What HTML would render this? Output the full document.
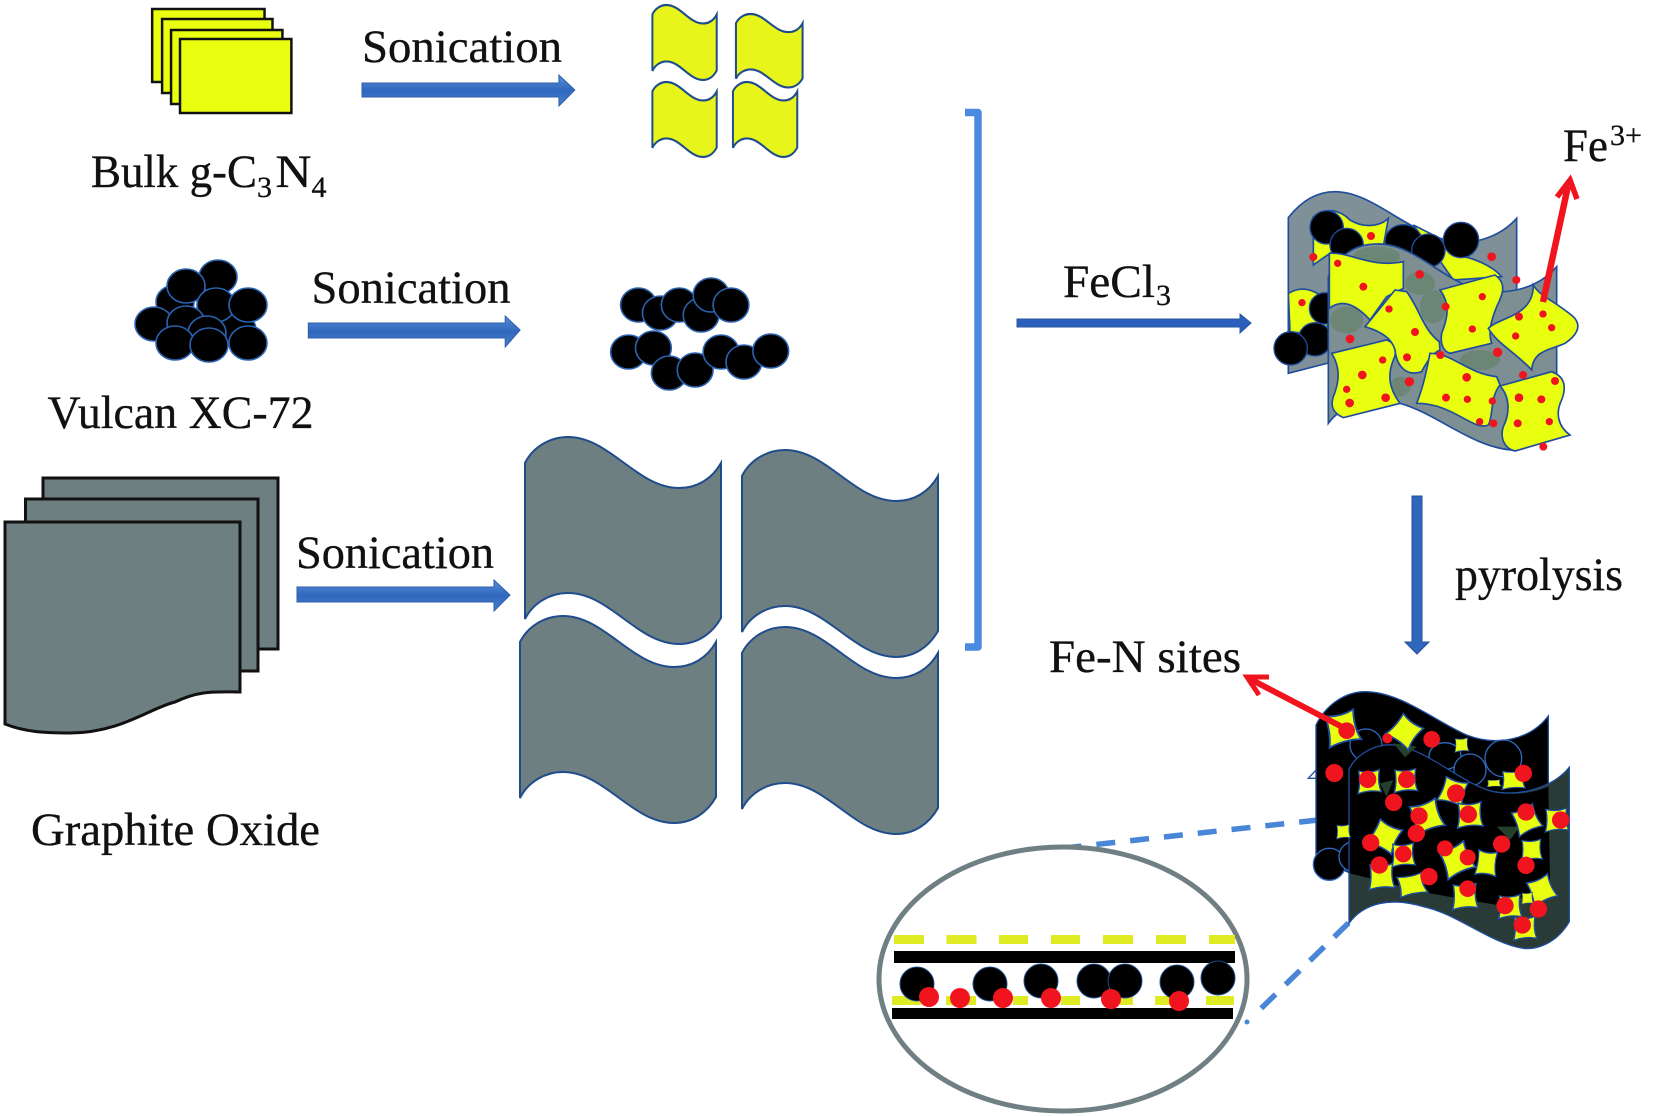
<!DOCTYPE html>
<html><head><meta charset="utf-8"><title>Diagram</title>
<style>html,body{margin:0;padding:0;background:#fff}svg{display:block}text{font-family:"Liberation Serif",serif;fill:#111;stroke:#111;stroke-width:.35}</style></head>
<body>
<svg width="1654" height="1116" viewBox="0 0 1654 1116" xmlns="http://www.w3.org/2000/svg">
<defs>
<linearGradient id="ab" x1="0" y1="0" x2="0" y2="1"><stop offset="0" stop-color="#5b8fd8"/><stop offset=".5" stop-color="#2f67bd"/><stop offset="1" stop-color="#4a80cf"/></linearGradient>
<path id="wave" d="M0,26 C8,10 25,0 43,0 C85,0 112,51 154,51 C172,51 187,42 196,26 L196,181 C187,197 172,207 154,207 C112,207 85,156 43,156 C25,156 8,166 0,182 Z"/>
<path id="star" d="M-32,-32 C-10,-26 10,-28 30,-36 C26,-12 28,12 36,30 C14,26 -12,28 -34,36 C-28,14 -28,-10 -32,-32Z" fill="#e8ff10" stroke="#1e4fa0" stroke-width="4"/>
</defs>
<rect width="1654" height="1116" fill="#fff"/>

<g transform="scale(.9945 1)">
<!-- yellow stack -->
<g fill="#eaff0f" stroke="#111" stroke-width="2.500">
<rect x="153" y="9" width="113" height="73"/><rect x="163" y="19" width="111" height="74"/><rect x="172" y="30" width="112" height="74"/><rect x="181" y="39" width="112" height="74"/>
</g>
<!-- small yellow pages -->
<g fill="#e8f51a" stroke="#1f4d8c" stroke-width="6">
<use href="#wave" transform="translate(656 5) scale(.33 .362)"/>
<use href="#wave" transform="translate(740 14) scale(.342 .355)"/>
<use href="#wave" transform="translate(656 82) scale(.33 .362)"/>
<use href="#wave" transform="translate(737 82) scale(.33 .362)"/>
</g>
<!-- carbon right -->
<g fill="#000" stroke="#2a62b0" stroke-width="1.600">
<ellipse cx="642" cy="305" rx="18" ry="17"/><ellipse cx="664" cy="313" rx="18" ry="17"/><ellipse cx="683" cy="305" rx="18" ry="17"/><ellipse cx="705" cy="315" rx="18" ry="17"/><ellipse cx="715" cy="295" rx="18" ry="17"/><ellipse cx="735" cy="305" rx="18" ry="17"/>
<ellipse cx="632" cy="352" rx="18" ry="17"/><ellipse cx="657" cy="348" rx="18" ry="17"/><ellipse cx="673" cy="373" rx="18" ry="17"/><ellipse cx="699" cy="370" rx="18" ry="17"/><ellipse cx="725" cy="352" rx="18" ry="17"/><ellipse cx="748" cy="362" rx="18" ry="17"/><ellipse cx="775" cy="351" rx="18" ry="17"/>
</g>
<g fill="url(#ab)" stroke="#2f5fa8" stroke-width="1">
<path d="M364,83 H562 V75 L578,90 L562,106 V97 H364 Z"/>
<path d="M310,323 H508 V316 L523,330 L508,347 V338 H310 Z"/>
</g>
</g>

<!-- carbon left -->
<g fill="#000" stroke="#2a62b0" stroke-width="1.600">
<ellipse cx="237" cy="330" rx="19" ry="17"/><ellipse cx="175" cy="302" rx="19" ry="17"/><ellipse cx="218" cy="277" rx="19" ry="17"/><ellipse cx="186" cy="286" rx="19" ry="17"/><ellipse cx="216" cy="305" rx="19" ry="17"/><ellipse cx="248" cy="305" rx="19" ry="17"/><ellipse cx="154" cy="324" rx="19" ry="17"/><ellipse cx="186" cy="323" rx="19" ry="17"/><ellipse cx="207" cy="333" rx="19" ry="17"/><ellipse cx="175" cy="343" rx="19" ry="17"/><ellipse cx="248" cy="343" rx="19" ry="17"/><ellipse cx="209" cy="345" rx="19" ry="17"/>
</g>

<!-- graphite stack -->
<g fill="#6e7f82" stroke="#111" stroke-width="3">
<rect x="43" y="478" width="235" height="171"/><rect x="25.500" y="499" width="232.500" height="172"/>
<path d="M5,522 H240 V692 C215,692 200,690 175,702 C150,708 120,733 70,733 C45,733 25,732 5,724 Z"/>
</g>
<!-- big grey pages -->
<g fill="#6e7f82" stroke="#1f4d8c" stroke-width="2">
<use href="#wave" transform="translate(525 437)"/><use href="#wave" transform="translate(742 450)"/><use href="#wave" transform="translate(520 616)"/><use href="#wave" transform="translate(742 627)"/>
</g>

<!-- blue arrows -->
<path d="M297,587 H494 V580 L510,595 L494,611 V602 H297 Z" fill="url(#ab)" stroke="#2f5fa8"/>
<path d="M1017,319 H1240 V314 L1251,323 L1240,333 V327 H1017 Z" fill="#2a5fbd" stroke="#2a55a0"/>
<path d="M1412,496 H1422 V642 H1429 L1417,654 L1405,642 H1412 Z" fill="#2f67bd" stroke="#264f96"/>
<!-- bracket -->
<path d="M965,112.500 H978 V647 H965" fill="none" stroke="#4a8ae0" stroke-width="7.500" stroke-linejoin="round"/>

<!-- top composite -->
<g transform="translate(1240 120) scale(.33333)">
<path d="M145,293 C190,235 240,215 285,215 C400,215 500,340 640,365 C720,375 790,340 830,295 L830,560 L300,720 L145,760 Z" fill="#7f9098" stroke="#1f4d9c" stroke-width="5"/>
<g fill="#e8ff10" stroke="#1f4d9c" stroke-width="5">
<path d="M220,290 C260,260 300,270 330,300 C370,325 420,320 445,295 L430,380 L300,380 C270,400 240,420 220,435 Z"/>
<path d="M520,315 L610,360 L640,405 C700,410 760,440 785,470 L640,480 L605,430 Z"/>
<path d="M145,520 C180,500 210,505 240,525 L265,560 L262,620 L190,640 L150,635 Z"/>
</g>
<g fill="#000" stroke="#1f4d9c" stroke-width="4">
<circle cx="260" cy="322" r="50"/><circle cx="320" cy="375" r="50"/><ellipse cx="490" cy="362" rx="55" ry="48"/><circle cx="565" cy="392" r="50"/><circle cx="663" cy="360" r="53"/>
<circle cx="255" cy="565" r="47"/><circle cx="225" cy="658" r="50"/><circle cx="152" cy="685" r="50"/>
</g>
<path d="M265,470 C300,400 350,370 420,372 C520,375 600,470 700,505 C790,530 890,510 950,440 L950,880 C930,940 880,990 820,990 C700,985 590,880 480,850 C380,830 300,860 265,910 Z" fill="#7d8f92" stroke="#1f4d9c" stroke-width="5"/>
<g fill="#5f7f60" opacity=".55"><ellipse cx="410" cy="410" rx="70" ry="30"/><ellipse cx="540" cy="490" rx="45" ry="35"/><ellipse cx="580" cy="560" rx="40" ry="50"/><ellipse cx="320" cy="600" rx="50" ry="40"/><ellipse cx="720" cy="720" rx="60" ry="30"/><ellipse cx="480" cy="800" rx="30" ry="30"/></g>
<g fill="#e8ff10" stroke="#1f4d9c" stroke-width="5">
<path d="M268,400 C330,395 390,445 490,425 L490,505 L440,530 L390,600 C340,545 300,540 268,565 Z"/>
<path d="M275,700 L440,660 C470,670 470,700 460,720 C440,770 450,810 480,850 L310,893 C280,880 270,860 280,830 C300,780 300,740 275,700 Z"/>
<path d="M375,620 L465,510 L500,515 C540,570 550,630 598,665 L600,690 C575,700 555,735 545,755 C500,770 470,740 465,690 C455,650 410,630 375,620 Z"/>
<path d="M600,510 L765,465 C800,490 790,520 770,560 C750,610 745,640 755,670 L630,700 C610,695 600,670 605,640 C625,590 630,550 600,510 Z"/>
<path d="M570,700 C640,700 680,760 770,770 L780,795 C750,830 760,890 745,915 C700,935 640,850 530,850 C550,800 560,750 570,700 Z"/>
<path d="M745,625 C780,590 880,590 880,495 C900,530 940,540 1000,590 C1030,620 1005,650 975,670 C930,690 880,690 875,750 C830,700 770,670 745,625 Z"/>
<path d="M780,798 L935,755 C975,770 980,800 965,840 C945,880 955,920 990,945 L825,993 C790,985 780,950 790,920 C810,880 810,830 780,798 Z"/>
</g>
<g fill="#f0141e">
<circle cx="393" cy="348" r="12"/><circle cx="220" cy="411" r="12"/><circle cx="293" cy="430" r="11"/><circle cx="370" cy="500" r="12"/><circle cx="539" cy="463" r="13"/><circle cx="755" cy="410" r="13"/><circle cx="829" cy="480" r="12"/><circle cx="727" cy="530" r="11"/><circle cx="186" cy="548" r="11"/><circle cx="447" cy="567" r="11"/><circle cx="617" cy="560" r="12"/><circle cx="525" cy="636" r="12"/><circle cx="330" cy="657" r="13"/><circle cx="697" cy="627" r="11"/><circle cx="837" cy="590" r="12"/><circle cx="909" cy="582" r="11"/><circle cx="935" cy="623" r="11"/><circle cx="827" cy="648" r="11"/><circle cx="773" cy="697" r="14"/><circle cx="601" cy="705" r="12"/><circle cx="501" cy="712" r="12"/><circle cx="428" cy="720" r="11"/><circle cx="367" cy="765" r="13"/><circle cx="320" cy="808" r="11"/><circle cx="329" cy="849" r="13"/><circle cx="437" cy="833" r="13"/><circle cx="508" cy="785" r="14"/><circle cx="680" cy="772" r="13"/><circle cx="618" cy="833" r="12"/><circle cx="682" cy="838" r="11"/><circle cx="757" cy="843" r="11"/><circle cx="849" cy="765" r="12"/><circle cx="837" cy="833" r="13"/><circle cx="904" cy="838" r="12"/><circle cx="945" cy="783" r="12"/><circle cx="833" cy="910" r="12"/><circle cx="928" cy="905" r="11"/><circle cx="719" cy="905" r="11"/><circle cx="760" cy="910" r="12"/><circle cx="910" cy="980" r="12"/>
</g>
</g>
<path d="M1543,302 L1568,186" stroke="#f0141e" stroke-width="6.500" fill="none"/>
<path d="M1557,197 L1570,180 L1577,199" stroke="#f0141e" stroke-width="5.500" fill="none" stroke-linejoin="miter"/>

<!-- dashed zoom lines -->
<path d="M1318,820 L1064,848" stroke="#4a86d8" stroke-width="5.500" stroke-dasharray="19 15" fill="none"/>
<path d="M1348.500,923 L1259.500,1010" stroke="#4a86d8" stroke-width="5.500" stroke-dasharray="20 14" fill="none"/>
<circle cx="1247" cy="1022" r="2.500" fill="#4a86d8"/>

<!-- bottom composite -->
<g transform="translate(1290 680) scale(.33333)">
<path d="M55,295 L80,268 V295 Z" fill="#fff" stroke="#1e4fa0" stroke-width="4"/>
<path d="M78,135 C110,70 170,35 225,35 C330,35 430,120 530,165 C620,200 720,180 775,108 L775,340 L180,580 L78,530 Z" fill="#000" stroke="#1e4fa0" stroke-width="4"/>
<g fill="#000" stroke="#2f68c0" stroke-width="4">
<circle cx="228" cy="195" r="48"/><ellipse cx="465" cy="228" rx="48" ry="40"/><circle cx="540" cy="270" r="48"/><circle cx="640" cy="235" r="55"/><circle cx="118" cy="553" r="48"/><circle cx="192" cy="530" r="45"/>
</g>
<path d="M177,268 C200,220 260,190 310,195 C420,210 510,310 610,335 C700,350 790,320 838,262 L838,725 C800,790 740,810 700,805 C600,790 500,700 400,680 C300,650 220,670 177,730 Z" fill="#2a3a36" stroke="#1e4fa0" stroke-width="4"/>
<path d="M179,270 C200,222 260,192 310,197 C420,212 510,312 610,337 C670,347 730,340 775,320 L780,600 L650,680 L420,640 L179,580 Z" fill="#000"/>
<g fill="#24402c"><path d="M310,190 L380,200 L345,232 Z"/><path d="M270,310 L310,300 L290,350 Z"/><path d="M620,440 L690,440 L660,480 Z"/></g>
<use href="#star" transform="translate(157 145) scale(1.4) rotate(-10)"/>
<use href="#star" transform="translate(345 155) scale(1.2) rotate(40)"/>
<use href="#star" transform="translate(515 195) scale(.6)"/>
<use href="#star" transform="translate(238 305) scale(1)"/>
<use href="#star" transform="translate(347 302) scale(1)"/>
<use href="#star" transform="translate(490 335) scale(1.1) rotate(20)"/>
<use href="#star" transform="translate(410 410) scale(1.3) rotate(-15)"/>
<use href="#star" transform="translate(540 405) scale(1.1)"/>
<use href="#star" transform="translate(710 420) scale(1.1) rotate(-20)"/>
<use href="#star" transform="translate(800 420) scale(1)"/>
<use href="#star" transform="translate(285 470) scale(1.2) rotate(30)"/>
<use href="#star" transform="translate(340 525) scale(1)"/>
<use href="#star" transform="translate(500 540) scale(1.3) rotate(-20)"/>
<use href="#star" transform="translate(590 550) scale(.9 1.1) rotate(10)"/>
<use href="#star" transform="translate(725 510) scale(.9)"/>
<use href="#star" transform="translate(275 590) scale(1.1)"/>
<use href="#star" transform="translate(365 615) scale(1.2 .9) rotate(-10)"/>
<use href="#star" transform="translate(525 650) scale(1.1)"/>
<use href="#star" transform="translate(755 630) scale(1.1) rotate(-20)"/>
<use href="#star" transform="translate(660 680) scale(1)"/>
<use href="#star" transform="translate(712 655) scale(.5)"/>
<use href="#star" transform="translate(705 745) scale(1)"/>
<use href="#star" transform="translate(160 455) scale(.6)"/>
<use href="#star" transform="translate(670 300) scale(1 .8)"/>
<use href="#star" transform="translate(612 310) scale(.6 .3)"/>
<g fill="#f0141e">
<circle cx="170" cy="152" r="25"/><circle cx="292" cy="175" r="15"/><circle cx="425" cy="178" r="25"/><circle cx="133" cy="279" r="27"/><circle cx="233" cy="298" r="26"/><circle cx="350" cy="298" r="26"/><circle cx="498" cy="340" r="27"/><circle cx="700" cy="280" r="26"/><circle cx="311" cy="367" r="26"/><circle cx="387" cy="408" r="26"/><circle cx="535" cy="403" r="26"/><circle cx="708" cy="396" r="26"/><circle cx="812" cy="420" r="26"/><circle cx="379" cy="460" r="26"/><circle cx="242" cy="488" r="26"/><circle cx="465" cy="505" r="24"/><circle cx="635" cy="492" r="26"/><circle cx="340" cy="522" r="25"/><circle cx="533" cy="532" r="24"/><circle cx="268" cy="555" r="26"/><circle cx="708" cy="556" r="26"/><circle cx="417" cy="590" r="26"/><circle cx="533" cy="626" r="25"/><circle cx="745" cy="687" r="26"/><circle cx="645" cy="677" r="26"/><circle cx="697" cy="735" r="26"/>
</g>
</g>
<path d="M1348,730 L1250,679" stroke="#f0141e" stroke-width="6" fill="none"/>
<path d="M1259,695 L1247,677 L1269,677" stroke="#f0141e" stroke-width="5" fill="none"/>

<!-- magnifier -->
<ellipse cx="1063" cy="979" rx="184" ry="132" fill="#fff" stroke="#6f7f84" stroke-width="5"/>
<g fill="#dfeb23">
<rect x="894" y="935" width="30" height="9"/><rect x="946.500" y="935" width="30" height="9"/><rect x="999" y="935" width="29" height="9"/><rect x="1051" y="935" width="29" height="9"/><rect x="1103" y="935" width="30" height="9"/><rect x="1156" y="935" width="30" height="9"/><rect x="1209" y="935" width="26" height="9"/>
<rect x="892" y="996" width="29" height="9"/><rect x="946" y="996" width="30" height="9"/><rect x="1013" y="996" width="15" height="9"/><rect x="1061" y="996" width="19" height="9"/><rect x="1120" y="996" width="13" height="9"/><rect x="1155" y="996" width="31" height="9"/><rect x="1206" y="996" width="28" height="9"/>
</g>
<rect x="894" y="951" width="341" height="12" fill="#000"/>
<rect x="892" y="1008" width="341" height="11" fill="#000"/>
<g fill="#000" stroke="#1f4d8c" stroke-width="1">
<ellipse cx="917" cy="984" rx="17" ry="17"/><ellipse cx="990" cy="984" rx="17" ry="17"/><ellipse cx="1041" cy="981" rx="17" ry="17"/><ellipse cx="1094" cy="981" rx="17" ry="17"/><ellipse cx="1125" cy="981" rx="17" ry="17"/><ellipse cx="1177" cy="982" rx="17" ry="17"/><ellipse cx="1218" cy="978" rx="17" ry="17"/>
</g>
<g fill="#f0141e">
<circle cx="929" cy="997" r="10"/><circle cx="960" cy="998" r="10"/><circle cx="1003" cy="998" r="10"/><circle cx="1051" cy="998" r="10"/><circle cx="1111" cy="999" r="10"/><circle cx="1179" cy="1001" r="10"/>
</g>

<!-- labels -->
<text x="362" y="62" font-size="47" textLength="200" lengthAdjust="spacingAndGlyphs">Sonication</text>
<text x="311.500" y="303" font-size="47" textLength="199" lengthAdjust="spacingAndGlyphs">Sonication</text>
<text x="296" y="568" font-size="47" textLength="198" lengthAdjust="spacingAndGlyphs">Sonication</text>
<text x="91" y="187" font-size="47" textLength="166" lengthAdjust="spacingAndGlyphs">Bulk g-C</text>
<text x="257" y="197" font-size="30">3</text>
<text x="275.500" y="187" font-size="47" textLength="36" lengthAdjust="spacingAndGlyphs">N</text>
<text x="311.500" y="197" font-size="30">4</text>
<text x="47.500" y="428" font-size="47" textLength="266" lengthAdjust="spacingAndGlyphs">Vulcan XC-72</text>
<text x="31" y="845" font-size="47" textLength="289" lengthAdjust="spacingAndGlyphs">Graphite Oxide</text>
<text x="1063" y="297" font-size="47" textLength="92" lengthAdjust="spacingAndGlyphs">FeCl</text>
<text x="1156" y="305" font-size="30">3</text>
<text x="1455" y="590" font-size="47" textLength="168" lengthAdjust="spacingAndGlyphs">pyrolysis</text>
<text x="1563" y="161" font-size="47" textLength="45" lengthAdjust="spacingAndGlyphs">Fe</text>
<text x="1610" y="145" font-size="30" textLength="32" lengthAdjust="spacingAndGlyphs">3+</text>
<text x="1049" y="672" font-size="47" textLength="192" lengthAdjust="spacingAndGlyphs">Fe-N sites</text>
</svg>
</body></html>
